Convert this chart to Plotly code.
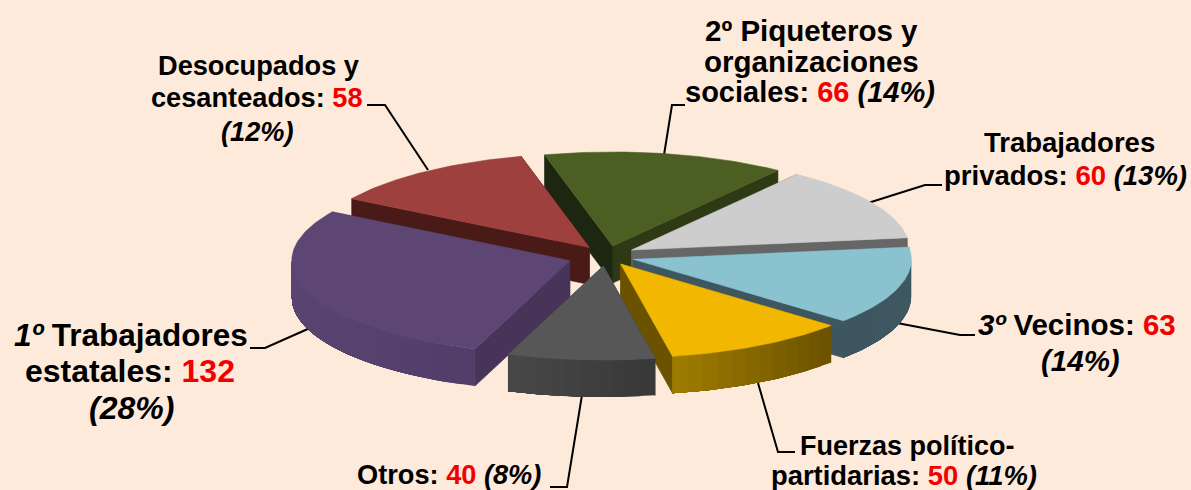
import plotly.graph_objects as go
import math

categories = ["2º Piqueteros y organizaciones sociales", "Trabajadores privados", "3º Vecinos",
              "Fuerzas político-partidarias", "Otros", "1º Trabajadores estatales", "Desocupados y cesanteados"]
values = [66, 60, 63, 50, 40, 132, 58]
percents = [14, 13, 14, 11, 8, 28, 12]

# Layout of the exploded pie (picture units)
START = -14.2
RX, RY, DEPTH = 278, 94, 37
TIPS = [(612.7, 246), (631.7, 250), (633.3, 259.3), (620.7, 264), (603.3, 266), (569.8, 260.7), (589.3, 247.5)]
TOP = ["#4B5F23", "#CDCDCD", "#8AC2D0", "#F2B700", "#575757", "#5E4674", "#9E413E"]
RADIAL_A = ["#1D2610", "#666666", "#3D5660", "#6B5200", "#383838", "#483459", "#4A1A17"]
RADIAL_B = ["#2E3A14", "#666666", "#3D5660", "#6B5200", "#383838", "#483459", "#4A1A17"]
WALL_L = ["#2E3A14", "#666666", "#3D5660", "#A07C00", "#484848", "#5A4472", "#4A1A17"]
WALL_R = ["#2E3A14", "#666666", "#3F5760", "#6B5200", "#383838", "#523D69", "#4A1A17"]
DRAW_ORDER = [0, 1, 6, 2, 3, 5, 4]
BG = "#FDEADA"

fig = go.Figure()


def poly(xs, ys, color, w=0.6):
    fig.add_trace(go.Scatter(x=xs, y=ys, mode="lines", fill="toself", fillcolor=color,
                             line=dict(color=color, width=w), hoverinfo="skip", showlegend=False))


def pt(tip, a):
    r = math.radians(a)
    return tip[0] + RX * math.sin(r), tip[1] - RY * math.cos(r)


def mix(c1, c2, t):
    a = [int(c1[i:i + 2], 16) for i in (1, 3, 5)]
    b = [int(c2[i:i + 2], 16) for i in (1, 3, 5)]
    return "#%02x%02x%02x" % tuple(round(a[k] + (b[k] - a[k]) * t) for k in range(3))


# leader lines
LEADERS = [
    [(664, 155), (672, 105), (685, 105)],
    [(868, 203), (925, 185), (942, 185)],
    [(897, 323), (960, 335), (975, 335)],
    [(758, 383), (778, 452), (795, 452)],
    [(582, 395), (567, 487), (550, 487)],
    [(310, 328), (265, 348), (250, 348)],
    [(428, 170), (385, 105), (367, 105)],
]
for L in LEADERS:
    fig.add_trace(go.Scatter(x=[p[0] for p in L], y=[p[1] for p in L], mode="lines",
                             line=dict(color="black", width=2), hoverinfo="skip", showlegend=False))

total = sum(values)
bounds = [START]
for v in values:
    bounds.append(bounds[-1] + v / total * 360)

for i in DRAW_ORDER:
    a0, a1 = bounds[i], bounds[i + 1]
    tip = TIPS[i]
    p0, p1 = pt(tip, a0), pt(tip, a1)
    # radial walls
    poly([tip[0], p1[0], p1[0], tip[0], tip[0]], [tip[1], p1[1], p1[1] + DEPTH, tip[1] + DEPTH, tip[1]], RADIAL_B[i])
    poly([tip[0], p0[0], p0[0], tip[0], tip[0]], [tip[1], p0[1], p0[1] + DEPTH, tip[1] + DEPTH, tip[1]], RADIAL_A[i])
    # outer wall, only the part that faces the viewer; bands overlap so no seams show
    lo, hi = max(a0, 90), min(a1, 270)
    if hi > lo:
        n = max(4, int((hi - lo) / 3))
        xs_all = [pt(tip, lo + (hi - lo) * k / n)[0] for k in range(n + 1)]
        x_l, x_r = min(xs_all), max(xs_all)
        for k in range(n):
            # each band reaches to the end of the arc; the next band paints over it
            steps = 40
            arc = [pt(tip, lo + (hi - lo) * (k + (n - k) * s / steps) / n) for s in range(steps + 1)]
            q0 = pt(tip, lo + (hi - lo) * k / n)
            q1 = pt(tip, lo + (hi - lo) * (k + 1) / n)
            t = min(1, ((q0[0] + q1[0]) / 2 - x_l) / (x_r - x_l))
            xs = [p[0] for p in arc] + [p[0] for p in reversed(arc)]
            ys = [p[1] for p in arc] + [p[1] + DEPTH for p in reversed(arc)]
            poly(xs + xs[:1], ys + ys[:1], mix(WALL_L[i], WALL_R[i], t), w=0)
    # top face
    n = int(a1 - a0) + 1
    arc = [pt(tip, a0 + (a1 - a0) * k / n) for k in range(n + 1)]
    poly([tip[0]] + [p[0] for p in arc] + [tip[0]], [tip[1]] + [p[1] for p in arc] + [tip[1]], TOP[i])


def red(v):
    return f'<span style="color:#F20000">{v}</span>'


def pct(p):
    return f"<i>({p}%)</i>"


TEXTS = [
    (811, 30, 29.5, "2º Piqueteros y"),
    (811.5, 61, 29.5, "organizaciones"),
    (810, 92, 29, f"sociales: {red(values[0])} {pct(percents[0])}"),
    (1069, 142, 27.5, "Trabajadores"),
    (1065, 175, 27.5, f"privados: {red(values[1])} {pct(percents[1])}"),
    (1077, 324, 29.5, f"<i>3º</i> Vecinos: {red(values[2])}"),
    (1080, 360, 29.5, pct(percents[2])),
    (907, 446, 27, "Fuerzas político-"),
    (904, 475, 27.4, f"partidarias: {red(values[3])} {pct(percents[3])}"),
    (449, 474.5, 27.2, f"Otros: {red(values[4])} {pct(percents[4])}"),
    (131, 335, 31.5, "<i>1º</i> Trabajadores"),
    (130, 371, 32, f"estatales: {red(values[5])}"),
    (131, 408, 32, pct(percents[5])),
    (258, 65, 27.2, "Desocupados y"),
    (257, 97, 27.2, f"cesanteados: {red(values[6])}"),
    (257, 131, 27.2, pct(percents[6])),
]
for x, y, s, t in TEXTS:
    fig.add_annotation(x=x, y=y, xref="x", yref="y", text=f"<b>{t}</b>", showarrow=False, align="center",
                       xanchor="center", yanchor="middle",
                       font=dict(family="Liberation Sans, Arial, sans-serif", size=s, color="black"))

fig.update_layout(width=1191, height=490, margin=dict(l=0, r=0, t=0, b=0), autosize=False,
                  paper_bgcolor=BG, plot_bgcolor=BG, showlegend=False,
                  xaxis=dict(range=[0, 1191], visible=False, fixedrange=True),
                  yaxis=dict(range=[490, 0], visible=False, fixedrange=True))
fig.write_html("out.html", config=dict(displayModeBar=False),
               post_script=f"document.body.style.margin='0';document.body.style.background='{BG}';document.body.style.overflow='hidden';")
